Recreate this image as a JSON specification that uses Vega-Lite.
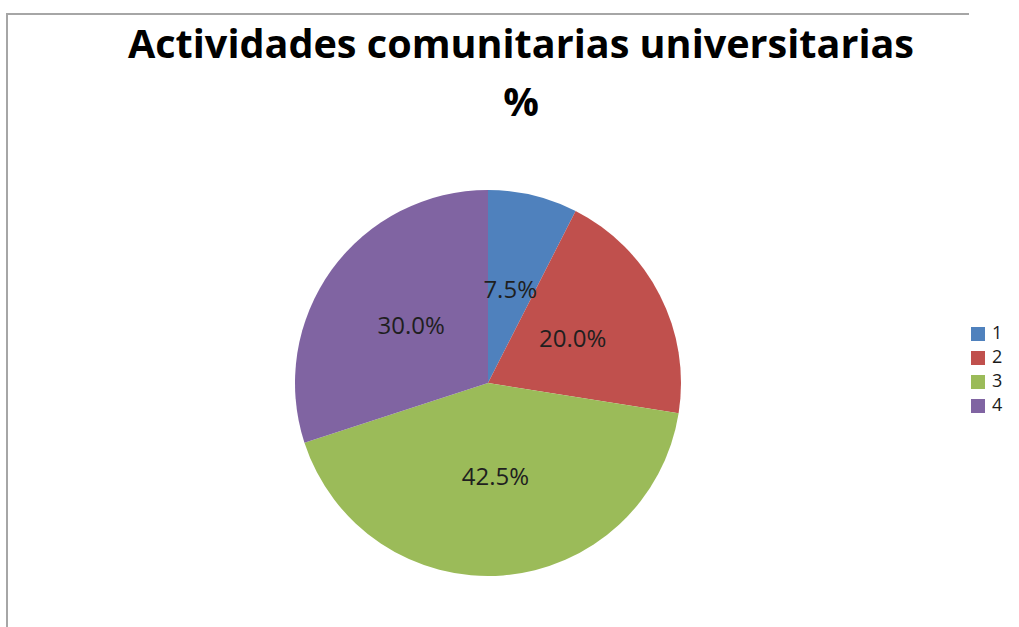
{
  "$schema": "https://vega.github.io/schema/vega-lite/v6.json",
  "width": 962,
  "height": 738,
  "autosize": {"type": "none"},
  "padding": {"left": 7, "top": 14, "right": 50, "bottom": 0},
  "background": "white",
  "view": {"stroke": "#a6a6a6", "strokeWidth": 2, "strokeDash": [962, 738, 5000]},
  "title": {
    "text": ["Actividades comunitarias universitarias", "%"],
    "font": "Open Sans",
    "fontSize": 39.6,
    "fontWeight": "bold",
    "color": "#000000",
    "anchor": "middle",
    "baseline": "top",
    "lineHeight": 58,
    "dx": 33,
    "dy": 115
  },
  "data": {
    "values": [
      {"cat": "1", "v": 0.075},
      {"cat": "2", "v": 0.2},
      {"cat": "3", "v": 0.425},
      {"cat": "4", "v": 0.3}
    ]
  },
  "encoding": {
    "theta": {"field": "v", "type": "quantitative", "stack": true},
    "order": {"field": "cat", "type": "ordinal"},
    "color": {
      "field": "cat",
      "type": "nominal",
      "scale": {"domain": ["1", "2", "3", "4"], "range": ["#4F81BD", "#C0504D", "#9BBB59", "#8064A2"]},
      "legend": {
        "title": null,
        "orient": "none",
        "legendX": 962,
        "legendY": 311,
        "symbolType": "square",
        "symbolSize": 196,
        "symbolStrokeWidth": 0,
        "labelFont": "Open Sans",
        "labelFontSize": 18,
        "labelColor": "#1a1a1a",
        "rowPadding": 6,
        "labelOffset": 5
      }
    }
  },
  "layer": [
    {"mark": {"type": "arc", "outerRadius": 193}},
    {
      "mark": {"type": "text", "radius": 95, "fontSize": 24, "font": "Open Sans"},
      "encoding": {
        "text": {"field": "v", "type": "quantitative", "format": ".1%"},
        "color": {"value": "#1f1f1f"}
      }
    }
  ]
}
